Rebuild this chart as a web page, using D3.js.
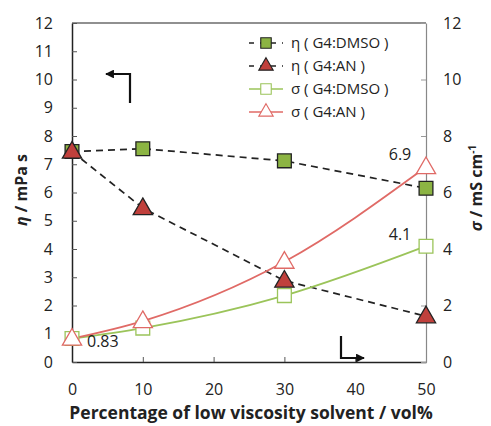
<!DOCTYPE html>
<html>
<head>
<meta charset="utf-8">
<script src="https://cdn.jsdelivr.net/npm/d3@7"></script>
<style>
  body { margin: 0; background: #fff; }
  text { font-family: "Open Sans", "Liberation Sans", sans-serif; fill: #222; }
</style>
</head>
<body>
<div id="chart"></div>
<script>
// data
var xValues = [0, 10, 30, 50];
var etaDMSO = [7.45, 7.55, 7.12, 6.15];
var etaAN = [7.45, 5.45, 2.88, 1.62];
var sigmaDMSO = [0.83, 1.2, 2.35, 4.1];
var sigmaAN = [0.83, 1.45, 3.55, 6.9];
var xTicks = [0, 10, 20, 30, 40, 50];
var leftTicks = [0, 1, 2, 3, 4, 5, 6, 7, 8, 9, 10, 11, 12];
var rightTicks = [0, 2, 4, 6, 8, 10, 12];

var width = 491, height = 426;
// plot edges (note: "top" is reserved on window, so use other names)
var plotLeft = 72, plotRight = 426, plotTop = 23, plotBottom = 362;

var svg = d3.select("#chart").append("svg")
  .attr("width", width)
  .attr("height", height);

var xScale = d3.scaleLinear().domain([0, 50]).range([plotLeft, plotRight]);
var yLeft = d3.scaleLinear().domain([0, 12]).range([plotBottom, plotTop]);
var yRight = d3.scaleLinear().domain([0, 12]).range([plotBottom, plotTop]);

// axes, ticks inward
var xAxis = d3.axisBottom(xScale).tickValues(xTicks).tickSizeInner(-5).tickSizeOuter(0).tickPadding(22);
var leftAxis = d3.axisLeft(yLeft).tickValues(leftTicks).tickSizeInner(-5).tickSizeOuter(0).tickPadding(19);
var rightAxis = d3.axisRight(yRight).tickValues(rightTicks).tickSizeInner(-5).tickSizeOuter(0).tickPadding(17);

// top border
svg.append("line")
  .attr("x1", plotLeft).attr("x2", plotRight)
  .attr("y1", plotTop).attr("y2", plotTop)
  .attr("stroke", "#222").attr("stroke-width", 1.2);

var gx = svg.append("g").attr("transform", "translate(0," + plotBottom + ")").call(xAxis);
var gl = svg.append("g").attr("transform", "translate(" + plotLeft + ",0)").call(leftAxis);
var gr = svg.append("g").attr("transform", "translate(" + plotRight + ",0)").call(rightAxis);

[gx, gl].forEach(function(g) {
  g.select(".domain").attr("stroke", "#222").attr("stroke-width", 1.5);
  g.selectAll(".tick line").attr("stroke", "#555");
});
gr.select(".domain").attr("stroke", "#888").attr("stroke-width", 1.2);
gr.selectAll(".tick line").attr("stroke", "#999");
[gx, gl, gr].forEach(function(g) {
  g.selectAll(".tick text")
    .style("font-family", "'Open Sans', 'Liberation Sans', sans-serif")
    .style("font-size", "16px")
    .attr("fill", "#333");
});
gx.selectAll(".tick line").filter(function(d) { return d === 0 || d === 50; }).remove();

// axis titles
svg.append("text")
  .attr("x", 251).attr("y", 419)
  .attr("text-anchor", "middle")
  .style("font-size", "17.5px").style("font-weight", "bold")
  .text("Percentage of low viscosity solvent  / vol%");

var lt = svg.append("text")
  .attr("transform", "translate(27,190)rotate(-90)")
  .attr("text-anchor", "middle")
  .style("font-size", "16px").style("font-weight", "bold");
lt.append("tspan").style("font-style", "italic").text("η");
lt.append("tspan").text(" / mPa s");

var rt = svg.append("text")
  .attr("transform", "translate(482,188)rotate(-90)")
  .attr("text-anchor", "middle")
  .style("font-size", "16px").style("font-weight", "bold");
rt.append("tspan").style("font-style", "italic").text("σ");
rt.append("tspan").text(" / mS cm");
rt.append("tspan").attr("dy", -6).style("font-size", "10px").text("-1");

// series
var series = [
  { name: "η ( G4:DMSO )", vals: etaDMSO, scale: yLeft, line: "#222", dash: "7,5", curve: d3.curveLinear, shape: "square", fill: "#8CB443", stroke: "#222" },
  { name: "η ( G4:AN )", vals: etaAN, scale: yLeft, line: "#222", dash: "7,5", curve: d3.curveLinear, shape: "triangle", fill: "#C0403C", stroke: "#222" },
  { name: "σ ( G4:DMSO )", vals: sigmaDMSO, scale: yRight, line: "#9BC45A", dash: null, curve: d3.curveMonotoneX, shape: "square", fill: "#fff", stroke: "#9BC45A" },
  { name: "σ ( G4:AN )", vals: sigmaAN, scale: yRight, line: "#E06A66", dash: null, curve: d3.curveMonotoneX, shape: "triangle", fill: "#fff", stroke: "#E06A66" }
];

function markerPath(shape) {
  if (shape === "square") return d3.symbol().type(d3.symbolSquare).size(190)();
  return d3.symbol().type(d3.symbolTriangle).size(160)();
}

// draw lines first, markers on top (in order)
series.forEach(function(s) {
  var pts = xValues.map(function(x, i) { return [x, s.vals[i]]; });
  var line = d3.line()
    .x(function(d) { return xScale(d[0]); })
    .y(function(d) { return s.scale(d[1]); })
    .curve(s.curve);
  svg.append("path")
    .attr("d", line(pts))
    .attr("fill", "none")
    .attr("stroke", s.line)
    .attr("stroke-width", s.dash ? 1.7 : 1.8)
    .attr("stroke-dasharray", s.dash);
});

series.forEach(function(s) {
  svg.selectAll(null)
    .data(xValues.map(function(x, i) { return [x, s.vals[i]]; }))
    .enter()
    .append("path")
    .attr("d", markerPath(s.shape))
    .attr("transform", function(d) {
      var dy = s.shape === "triangle" ? 1 : 0;
      return "translate(" + xScale(d[0]) + "," + (s.scale(d[1]) + dy) + ")";
    })
    .attr("fill", s.fill)
    .attr("stroke", s.stroke)
    .attr("stroke-width", 1.3);
});

// legend
var legend = svg.append("g");
series.forEach(function(s, i) {
  var y = 43 + i * 23;
  legend.append("line")
    .attr("x1", 249).attr("x2", 283)
    .attr("y1", y).attr("y2", y)
    .attr("stroke", s.line)
    .attr("stroke-width", 1.6)
    .attr("stroke-dasharray", s.dash ? "5,6" : null);
  legend.append("path")
    .attr("d", s.shape === "square" ? d3.symbol().type(d3.symbolSquare).size(110)() : d3.symbol().type(d3.symbolTriangle).size(90)())
    .attr("transform", "translate(266," + y + ")")
    .attr("fill", s.fill)
    .attr("stroke", s.stroke)
    .attr("stroke-width", 1.1);
  legend.append("text")
    .attr("x", 291).attr("y", y + 5)
    .style("font-size", "15px")
    .text(s.name);
});

// value annotations
svg.append("text").attr("x", 400).attr("y", 160).attr("text-anchor", "middle")
  .style("font-size", "16px").text("6.9");
svg.append("text").attr("x", 400).attr("y", 240).attr("text-anchor", "middle")
  .style("font-size", "16px").text("4.1");
svg.append("text").attr("x", 87).attr("y", 347)
  .style("font-size", "16px").text("0.83");

// axis-direction arrows
svg.append("defs").append("marker")
  .attr("id", "arr")
  .attr("viewBox", "0 0 10 10")
  .attr("refX", 9).attr("refY", 5)
  .attr("markerWidth", 4).attr("markerHeight", 4)
  .attr("orient", "auto")
  .append("path")
  .attr("d", "M0,0L10,5L0,10Z")
  .attr("fill", "#111");

svg.append("path")
  .attr("d", "M130,103L130,74L106,74")
  .attr("fill", "none").attr("stroke", "#111").attr("stroke-width", 2.2)
  .attr("marker-end", "url(#arr)");

svg.append("path")
  .attr("d", "M341,336L341,358L364,358")
  .attr("fill", "none").attr("stroke", "#111").attr("stroke-width", 2.2)
  .attr("marker-end", "url(#arr)");
</script>
</body>
</html>
